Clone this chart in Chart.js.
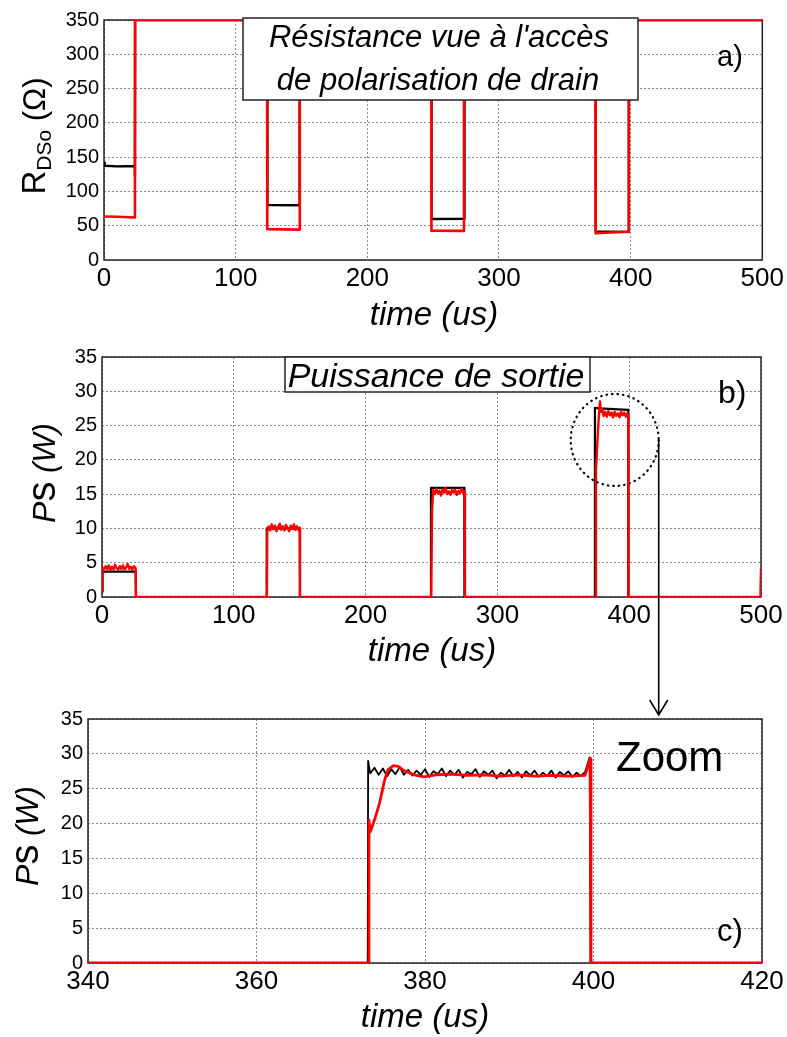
<!DOCTYPE html>
<html>
<head>
<meta charset="utf-8">
<script src="https://cdn.jsdelivr.net/npm/chart.js@4.4.1/dist/chart.umd.min.js"></script>
<style>
body { margin: 0; background: #fff; width: 787px; height: 1037px; position: relative; overflow: hidden; }
canvas { position: absolute; left: 0; }
</style>
</head>
<body>
<canvas id="chartA" width="787" height="335" style="top:0px"></canvas>
<canvas id="chartB" width="787" height="385" style="top:335px"></canvas>
<canvas id="chartC" width="787" height="347" style="top:690px"></canvas>
<script>
// a) R_DSo seen at the drain bias access, time in us
var rdsBlack = [[0,142],[0.6,137.5],[10,136.5],[23.4,137],[23.5,122],[23.6,350],[124,350],[124.1,80.2],[148.5,79.8],[148.6,350],
  [248.7,350],[248.8,59.8],[273.6,60.2],[273.8,350],[373.4,350],[373.5,41.5],[398.5,41],[398.6,350],[500,350]];
var rdsRed = [[0,63.5],[10,63],[23.5,62],[23.6,350],[123.9,350],[124,45],[148.6,44.3],[148.7,350],
  [248.6,350],[248.7,42.8],[273.3,42.5],[273.4,350],[373.3,350],[373.4,38.9],[385,40],[398.6,41.3],[398.7,350],[500,350]];

// b) output power Ps (W)
var psBlack = [[0,0.8],[0.4,3.7],[25.6,3.7],[25.7,0],[124.9,0],[125,10],[150.1,10],[150.2,0],
  [249.5,0],[249.6,15.9],[274.9,15.9],[275,0],[373.9,0],[374,27.6],[377,27.5],[399.2,27.3],[399.3,0],[500,0]];
var psRed = [[0,0.8],[0.3,4.3],[1.5,4.0],[2.7,4.5],[3.9,4.1],[5.1,4.6],[6.3,3.9],[7.5,4.4],[8.7,4.0],[9.9,4.7],[11.1,4.2],
  [12.3,4.0],[13.5,4.5],[14.7,4.1],[15.9,4.6],[17.1,4.0],[18.3,4.3],[19.5,4.8],[20.7,4.1],[21.9,4.4],[23.1,4.0],[24.3,4.5],
  [25.5,4.2],[25.8,0],
  [125.1,0],[125.4,9.6],[126.4,10.3],[127.6,9.7],[128.8,10.6],[130,9.9],[131.2,10.4],[132.4,9.6],[133.6,10.2],[134.8,10.7],
  [136,9.8],[137.2,10.3],[138.4,9.7],[139.6,10.5],[140.8,10.0],[142,9.6],[143.2,10.4],[144.4,9.9],[145.6,10.6],[146.8,9.8],
  [148,10.3],[149.2,9.7],[150.1,10.1],[150.2,0],
  [249.8,0],[250.4,12.4],[251.2,15.6],[252.4,15.0],[253.6,15.8],[254.8,15.1],[256,15.5],[257.2,14.8],[258.4,15.7],[259.6,15.2],
  [260.8,15.9],[262,15.0],[263.2,15.4],[264.4,14.9],[265.6,15.7],[266.8,15.2],[268,15.6],[269.2,14.9],[270.4,15.5],[271.6,15.1],
  [272.8,15.8],[274,15.2],[275.2,15.4],[275.4,0],
  [374.2,0],[374.8,18.5],[376.5,25],[377.8,28.5],[378.6,27.0],[379.6,27.4],[380.6,26.4],[381.8,27.0],[383,26.3],[384.2,27.1],
  [385.4,26.5],[386.6,26.9],[387.8,26.2],[389,27.0],[390.2,26.4],[391.4,26.8],[392.6,26.2],[393.8,27.0],[395,26.5],[396.2,26.9],
  [397.4,26.3],[398.6,26.8],[399.3,26.6],[399.5,0],[499.6,0],[500,4.3]];

// c) zoom on the last pulse
var zoomBlack = [[340,0],[373.2,0],[373.25,29.0],[373.5,27.2],[374,28.0],[374.5,27.0],[375,27.9],[375.5,26.8],[376,27.8],
  [376.5,27.1],[377,28.1],[377.5,27.0],[378,27.7],[378.5,26.9],[379,27.6],[379.5,27.0],[380,27.8],[380.5,26.7],[381,27.5],
  [381.5,27.1],[382,27.9],[382.5,26.8],[383,27.6],[383.5,27.0],[384,27.7],[384.5,26.6],[385,27.4],[385.5,27.1],[386,27.8],
  [386.5,26.7],[387,27.5],[387.5,27.0],[388,27.6],[388.5,26.5],[389,27.3],[389.5,26.9],[390,27.7],[390.5,26.8],[391,27.4],
  [391.5,26.6],[392,27.5],[392.5,26.9],[393,27.6],[393.5,26.7],[394,27.3],[394.5,26.8],[395,27.6],[395.5,26.6],[396,27.4],
  [396.5,26.9],[397,27.5],[397.5,26.7],[398,27.3],[398.5,26.8],[399,27.4],[399.55,29.5],[399.65,0],[420,0]];
var zoomRed = [[340,0],[373.3,0],[373.35,20.5],[373.5,18.8],[374,20.5],[374.6,22.9],[375.2,26.2],[375.6,27.7],[376.2,28.3],
  [376.8,28.2],[377.5,27.6],[378.7,27.0],[379.9,26.7],[381.3,27.0],[383.1,27.1],[385,26.9],[387,27.0],[389,26.8],[391,27.0],
  [393,26.8],[395,26.9],[397,26.8],[399,26.9],[399.6,29.3],[399.7,0],[420,0]];

var FONT = '"Liberation Sans", Arial, sans-serif';

function pts(arr) {
  return arr.map(function (p) { return { x: p[0], y: p[1] }; });
}

function line(arr, color, width) {
  return { data: pts(arr), borderColor: color, borderWidth: width, pointRadius: 0, tension: 0, fill: false, borderJoinStyle: 'round' };
}

function scales(xmin, xmax, xstep, ymax, ystep, yWidth, xHeight) {
  var grid = { color: '#8c8c8c', lineWidth: 1, drawTicks: false };
  return {
    x: {
      type: 'linear', min: xmin, max: xmax,
      ticks: { stepSize: xstep, padding: 3, color: '#000', font: { family: FONT, size: 26 }, maxRotation: 0, autoSkip: false },
      grid: grid, border: { display: false, dash: [2, 2] },
      afterFit: function (s) { s.height = xHeight; }
    },
    y: {
      type: 'linear', min: 0, max: ymax,
      ticks: { stepSize: ystep, padding: 5, color: '#000', font: { family: FONT, size: 20 } },
      grid: grid, border: { display: false, dash: [2, 2] },
      afterFit: function (s) { s.width = yWidth; }
    }
  };
}

function rotatedTitle(ctx, parts, x, yc) {
  ctx.save();
  ctx.translate(x, yc);
  ctx.rotate(-Math.PI / 2);
  var total = 0;
  parts.forEach(function (p) { ctx.font = p.font; p.w = ctx.measureText(p.t).width; total += p.w; });
  var cx = -total / 2;
  ctx.fillStyle = '#000';
  ctx.textAlign = 'left';
  ctx.textBaseline = 'alphabetic';
  parts.forEach(function (p) { ctx.font = p.font; ctx.fillText(p.t, cx, p.dy || 0); cx += p.w; });
  ctx.restore();
}

function text(ctx, t, font, x, y, align) {
  ctx.save();
  ctx.font = font;
  ctx.fillStyle = '#000';
  ctx.textAlign = align || 'left';
  ctx.textBaseline = 'alphabetic';
  ctx.fillText(t, x, y);
  ctx.restore();
}

function box(ctx, x0, y0, x1, y1) {
  ctx.save();
  ctx.fillStyle = '#fff';
  ctx.fillRect(x0, y0, x1 - x0, y1 - y0);
  ctx.strokeStyle = '#222';
  ctx.lineWidth = 1.5;
  ctx.strokeRect(x0, y0, x1 - x0, y1 - y0);
  ctx.restore();
}

var frame = {
  id: 'frame',
  beforeDatasetsDraw: function (chart) {
    var a = chart.chartArea, ctx = chart.ctx;
    ctx.save();
    ctx.strokeStyle = '#222';
    ctx.lineWidth = 1.5;
    ctx.strokeRect(a.left, a.top, a.right - a.left, a.bottom - a.top);
    ctx.restore();
  }
};

function makeChart(id, datasets, sc, pad, decorate) {
  return new Chart(document.getElementById(id), {
    type: 'line',
    data: { datasets: datasets },
    options: {
      responsive: false,
      animation: false,
      layout: { padding: pad },
      scales: sc,
      plugins: { legend: { display: false }, tooltip: { enabled: false } }
    },
    plugins: [frame, { id: 'decor', afterDraw: function (chart) { decorate(chart, chart.ctx); } }]
  });
}

var italic = function (size) { return 'italic ' + size + 'px ' + FONT; };
var normal = function (size) { return size + 'px ' + FONT; };

// chart a
makeChart('chartA',
  [line(rdsRed, '#ff0000', 2.6), line(rdsBlack, '#000000', 2.4)],
  scales(0, 500, 100, 350, 50, 104, 75),
  { top: 20, right: 24, left: 0, bottom: 0 },
  function (chart, ctx) {
    box(ctx, 243, 18, 638, 100);
    text(ctx, "Résistance vue à l'accès", italic(31), 439, 47, 'center');
    text(ctx, 'de polarisation de drain', italic(31), 438, 90, 'center');
    text(ctx, 'a)', normal(29), 717, 66);
    text(ctx, 'time (us)', italic(33), 434, 325, 'center');
    rotatedTitle(ctx, [
      { t: 'R', font: normal(33) },
      { t: 'DSo', font: normal(21), dy: 6 },
      { t: ' (Ω)', font: normal(31) }
    ], 45, 136);
  });

// chart b
makeChart('chartB',
  [line(psRed, '#ff0000', 2.4), line(psBlack, '#000000', 2.2)],
  scales(0, 500, 100, 35, 5, 102, 123),
  { top: 22, right: 26, left: 0, bottom: 0 },
  function (chart, ctx) {
    box(ctx, 285, 22, 590, 57);
    text(ctx, 'Puissance de sortie', italic(34), 436, 52, 'center');
    text(ctx, 'b)', normal(32), 718, 68);
    text(ctx, 'time (us)', italic(33), 432, 326, 'center');
    rotatedTitle(ctx, [
      { t: 'P', font: italic(32) },
      { t: 's', font: normal(40) },
      { t: ' (W)', font: italic(31) }
    ], 55, 138);
    // dotted circle around the last pulse and arrow to the zoom
    var cx = chart.scales.x.getPixelForValue(389);
    var cy = chart.scales.y.getPixelForValue(22.9);
    ctx.save();
    ctx.strokeStyle = '#000';
    ctx.lineWidth = 2.2;
    ctx.lineCap = 'round';
    ctx.setLineDash([0.5, 5]);
    ctx.beginPath();
    ctx.ellipse(cx, cy, 44, 46, 0, 0, Math.PI * 2);
    ctx.stroke();
    ctx.setLineDash([]);
    ctx.lineWidth = 1.6;
    ctx.lineCap = 'butt';
    var ax = cx + 44, ay = chart.height - 5;
    ctx.beginPath();
    ctx.moveTo(ax, cy);
    ctx.lineTo(ax, ay);
    ctx.moveTo(ax - 9, ay - 15);
    ctx.lineTo(ax, ay);
    ctx.lineTo(ax + 9, ay - 15);
    ctx.stroke();
    ctx.restore();
  });

// chart c
makeChart('chartC',
  [line(zoomRed, '#ff0000', 2.8), line(zoomBlack, '#000000', 1.8)],
  scales(340, 420, 20, 35, 5, 88, 74),
  { top: 29, right: 25, left: 0, bottom: 0 },
  function (chart, ctx) {
    text(ctx, 'Zoom', normal(42), 616, 81);
    text(ctx, 'c)', normal(31), 717, 251);
    text(ctx, 'time (us)', italic(33), 425, 337, 'center');
    rotatedTitle(ctx, [
      { t: 'P', font: italic(32) },
      { t: 's', font: normal(40) },
      { t: ' (W)', font: italic(31) }
    ], 38, 146);
  });
</script>
</body>
</html>
